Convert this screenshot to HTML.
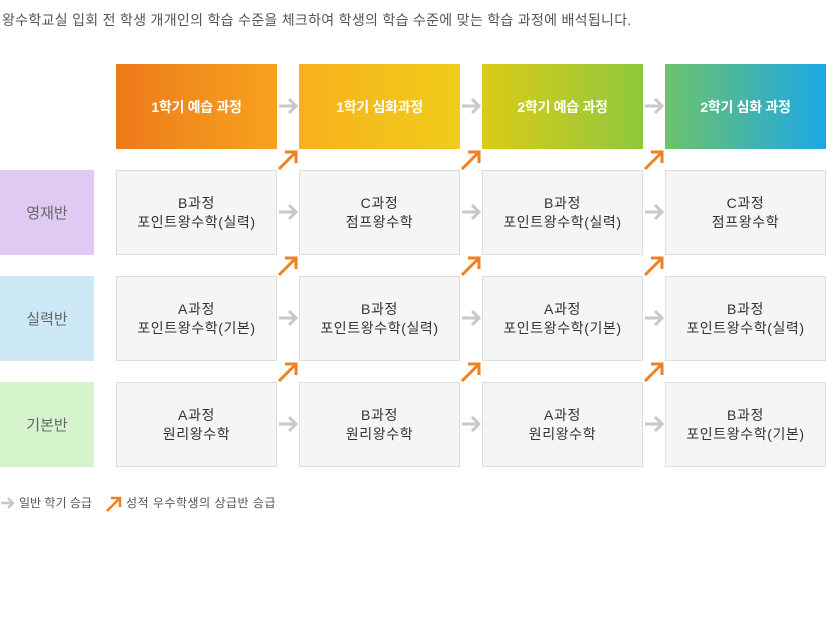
<!DOCTYPE html>
<html><head><meta charset="utf-8"><style>
body{margin:0;width:826px;height:635px;background:#fff;position:relative;overflow:hidden;font-family:"Liberation Sans","Noto Sans CJK KR","NanumGothic",sans-serif;}
.t{position:absolute;left:2px;top:10px;font-size:14px;color:#555;letter-spacing:0.3px;white-space:nowrap}
.h{position:absolute;top:64px;width:161px;height:85px;color:#fff;font-size:14px;font-weight:bold;display:flex;align-items:center;justify-content:center;letter-spacing:-0.3px}
.l{position:absolute;left:0;width:94px;height:85px;display:flex;align-items:center;justify-content:center;font-size:15px;color:#666}
.b{position:absolute;width:159px;height:83px;background:#f5f5f5;border:1px solid #ddd;display:flex;align-items:center;justify-content:center;text-align:center;font-size:14px;color:#333;line-height:19px;letter-spacing:0.6px}
svg{position:absolute;left:0;top:0}
.lg{position:absolute;top:494px;font-size:12px;color:#555;white-space:nowrap}
</style></head><body>
<div class="t">왕수학교실 입회 전 학생 개개인의 학습 수준을 체크하여 학생의 학습 수준에 맞는 학습 과정에 배석됩니다.</div>
<div class="h" style="left:116px;background:linear-gradient(90deg,#ee7a1a,#f7a21f)">1학기 예습 과정</div>
<div class="h" style="left:299px;background:linear-gradient(90deg,#f8b01d,#efcd1a)">1학기 심화과정</div>
<div class="h" style="left:482px;background:linear-gradient(90deg,#dccb16,#8ec83e)">2학기 예습 과정</div>
<div class="h" style="left:665px;background:linear-gradient(90deg,#6ec26a,#1ca8e6)">2학기 심화 과정</div>
<div class="l" style="top:170px;background:#e0c9f2">영재반</div>
<div class="l" style="top:276px;background:#cce9f5">실력반</div>
<div class="l" style="top:382px;background:#d6f4cc">기본반</div>
<div class="b" style="left:116px;top:170px">B과정<br>포인트왕수학(실력)</div>
<div class="b" style="left:299px;top:170px">C과정<br>점프왕수학</div>
<div class="b" style="left:482px;top:170px">B과정<br>포인트왕수학(실력)</div>
<div class="b" style="left:665px;top:170px">C과정<br>점프왕수학</div>
<div class="b" style="left:116px;top:276px">A과정<br>포인트왕수학(기본)</div>
<div class="b" style="left:299px;top:276px">B과정<br>포인트왕수학(실력)</div>
<div class="b" style="left:482px;top:276px">A과정<br>포인트왕수학(기본)</div>
<div class="b" style="left:665px;top:276px">B과정<br>포인트왕수학(실력)</div>
<div class="b" style="left:116px;top:382px">A과정<br>원리왕수학</div>
<div class="b" style="left:299px;top:382px">B과정<br>원리왕수학</div>
<div class="b" style="left:482px;top:382px">A과정<br>원리왕수학</div>
<div class="b" style="left:665px;top:382px">B과정<br>포인트왕수학(기본)</div>
<svg width="826" height="635">
<defs>
<g id="g"><path d="M0 0h17M10 -7l7 7l-7 7" fill="none" stroke="#c8c8c8" stroke-width="3"/></g>
<g id="o"><path d="M0 18L17 1M6 1h11v11" fill="none" stroke="#f08020" stroke-width="3"/></g>
</defs>
<use href="#g" x="279" y="106"/><use href="#g" x="462" y="106"/><use href="#g" x="645" y="106"/>
<use href="#g" x="279" y="212"/><use href="#g" x="462" y="212"/><use href="#g" x="645" y="212"/>
<use href="#g" x="279" y="318"/><use href="#g" x="462" y="318"/><use href="#g" x="645" y="318"/>
<use href="#g" x="279" y="424"/><use href="#g" x="462" y="424"/><use href="#g" x="645" y="424"/>
<use href="#o" x="279" y="151"/><use href="#o" x="462" y="151"/><use href="#o" x="645" y="151"/>
<use href="#o" x="279" y="257"/><use href="#o" x="462" y="257"/><use href="#o" x="645" y="257"/>
<use href="#o" x="279" y="363"/><use href="#o" x="462" y="363"/><use href="#o" x="645" y="363"/>
<path d="M1 503h12M8 498l5 5l-5 5" fill="none" stroke="#c8c8c8" stroke-width="2.5"/>
<path d="M107 511L119 499M111 498h9v9" fill="none" stroke="#f08020" stroke-width="2.5"/>
</svg>
<div class="lg" style="left:19px">일반 학기 승급</div>
<div class="lg" style="left:126px;letter-spacing:0.5px">성적 우수학생의 상급반 승급</div>
</body></html>
